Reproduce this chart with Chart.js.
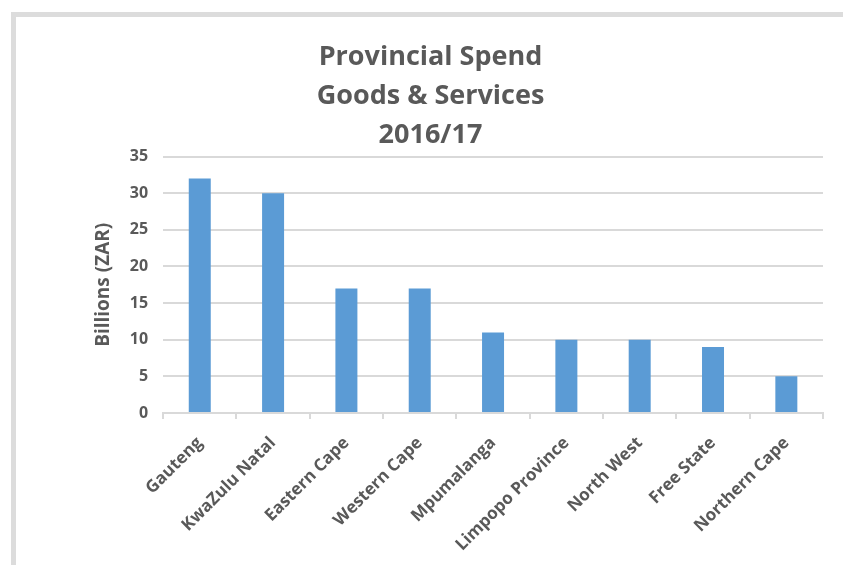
<!DOCTYPE html>
<html>
<head>
<meta charset="utf-8">
<style>
  html, body { margin: 0; padding: 0; background: #fff; overflow: hidden; }
  #frame {
    position: absolute; left: 11px; top: 12px; right: 0; bottom: 0;
    border-top: 5px solid #dcdcdc; border-left: 5px solid #dcdcdc;
  }
  #box { position: absolute; left: 0; top: 0; width: 827px; height: 548px; }
</style>
</head>
<body>
<div id="frame"><div id="box"><canvas id="spend_chart"></canvas></div></div>

<script src="https://cdn.jsdelivr.net/npm/chart.js"></script>
<script>
    const provinces = ['Gauteng', 'KwaZulu Natal', 'Eastern Cape', 'Western Cape', 'Mpumalanga',
        'Limpopo Province', 'North West', 'Free State', 'Northern Cape'];
    const spend = [32, 30, 17, 17, 11, 10, 10, 9, 5];
    const title_lines = ['Provincial Spend', 'Goods & Services', '2016/17'];
    const y_title = 'Billions (ZAR)';

    const grey = '#595959';
    const font = '"Open Sans", "Liberation Sans", sans-serif';

    const spend_chart = new Chart(document.getElementById('spend_chart'), {
        type: 'bar',
        data: {
            labels: provinces,
            datasets: [{
                label: 'Spend',
                data: spend,
                backgroundColor: '#5b9bd5',
                categoryPercentage: 1,
                barPercentage: 0.3,
            }]
        },
        options: {
            responsive: true,
            maintainAspectRatio: false,
            animation: false,
            layout: {
                padding: { left: 22, right: 20, top: 21, bottom: -4 }
            },
            plugins: {
                legend: { display: false },
                tooltip: { enabled: false },
                title: {
                    display: true,
                    text: title_lines,
                    color: grey,
                    font: { family: font, size: 27, weight: 'bold', lineHeight: 1.44 },
                    padding: { top: 0, bottom: 2 }
                }
            },
            scales: {
                x: {
                    grid: {
                        offset: true,
                        drawOnChartArea: false,
                        drawTicks: true,
                        tickLength: 6,
                        color: '#d9d9d9',
                        lineWidth: 2
                    },
                    border: { color: '#d9d9d9', width: 2 },
                    ticks: {
                        color: grey,
                        minRotation: 45,
                        maxRotation: 45,
                        autoSkip: false,
                        padding: 14,
                        font: { family: font, size: 17, weight: 'bold' }
                    }
                },
                y: {
                    min: 0,
                    max: 35,
                    grid: { color: '#d9d9d9', lineWidth: 2, drawTicks: false },
                    border: { display: false },
                    ticks: {
                        stepSize: 5,
                        color: grey,
                        padding: 15,
                        font: { family: font, size: 16, weight: 'bold' }
                    },
                    title: {
                        display: true,
                        text: y_title,
                        color: grey,
                        padding: { top: 54, bottom: 0 },
                        font: { family: font, size: 19, weight: 'bold' }
                    }
                }
            }
        }
    });
</script>
</body>
</html>
